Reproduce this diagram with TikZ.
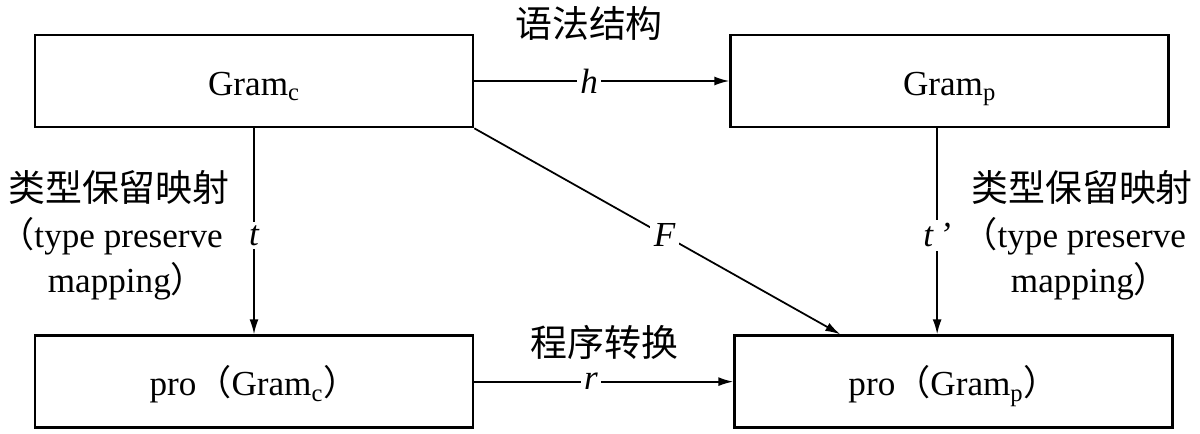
\documentclass[tikz,border=0pt]{standalone}
\usepackage{fontspec}
\setmainfont{Liberation Serif}
\newfontfamily\cjk{Noto Sans CJK SC}
\usetikzlibrary{arrows.meta,positioning}

% narrow full-width brackets for the side notes
\newcommand{\lpar}{\makebox[0.55em][r]{\cjk （}}
\newcommand{\rpar}{\makebox[0.55em][l]{\cjk ）}}

\begin{document}
\begin{tikzpicture}[
	> = {Latex[length=3mm, width=1.8mm]}, % arrow head style
	font = \fontsize{20}{26}\selectfont,
	box/.style={rectangle, draw=black, line width=1.5pt, minimum width=8.76cm, minimum height=1.84cm, inner sep=0pt, text height=19pt, text depth=3pt},
	conn/.style={->, line width=1pt},
	lbl/.style={fill=white, inner sep=2pt, font=\fontsize{20}{26}\selectfont\itshape},
	cn/.style={inner sep=0pt, font=\fontsize{21}{26}\selectfont\cjk},
	note/.style={align=center, inner sep=0pt},
	]
	\useasboundingbox (-5.08,-7.04) rectangle (18.92,1.62);

	% Grammar and program boxes
	\node[box] (Gc) {Gram\textsubscript{c}};
	\node[box] (Gp) [right = 5.1cm of Gc] {Gram\textsubscript{p}};
	\node[box] (Pc) [below = 4.12cm of Gc] {pro{\cjk （}Gram\textsubscript{c}{\cjk ）}};
	\node[box] (Pp) [right = 5.18cm of Pc] {pro{\cjk （}Gram\textsubscript{p}{\cjk ）}};

	% Mappings between them
	\draw[conn] (Gc) -- node[lbl, pos=.45] (hl) {h} (Gp);
	\draw[conn] (Pc) -- node[lbl, pos=.45] (rl) {r} (Pp);
	\draw[conn] (Gc) -- node[lbl, pos=.52] (tl) {t} (Pc);
	\draw[conn] ([xshift=-0.25cm]Gp.south) -- node[lbl, pos=.52] (tpl) {t\,’} ([xshift=-0.25cm]Gp.south |- Pp.north);
	\draw[conn] (Gc.south east) -- node[lbl, pos=.52] (fl) {F} ([xshift=2.14cm]Pp.north west);

	% Captions
	\node[cn] (syn) at ([yshift=1.16cm]hl) {语法结构};
	\node[cn] (prog) at ([xshift=0.27cm, yshift=0.78cm]rl) {程序转换};
	\node[note] (tnote) at ([xshift=-2.7cm]tl) {{\cjk\fontsize{21}{26}\selectfont 类型保留映射}\\\lpar type preserve\hspace*{0.6em}\\mapping\rpar};
	\node[note] (tpnote) at ([xshift=2.9cm]tpl) {{\cjk\fontsize{21}{26}\selectfont 类型保留映射}\\\lpar type preserve\hspace*{0.6em}\\mapping\rpar};

\end{tikzpicture}
\end{document}
